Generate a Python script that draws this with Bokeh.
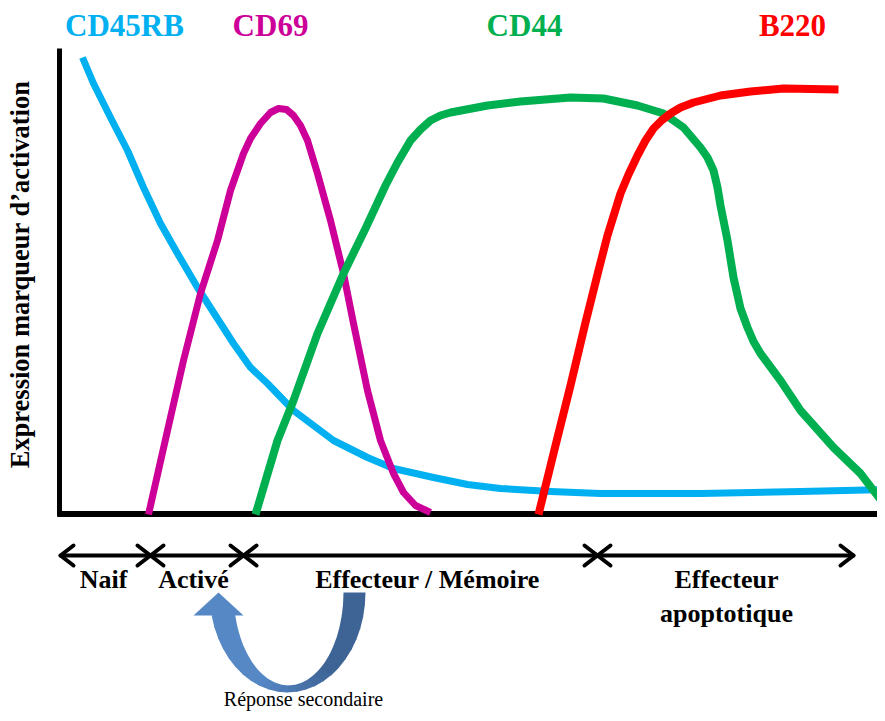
import numpy as np
from bokeh.plotting import figure
from bokeh.models import Range1d
from bokeh.core.properties import value
from bokeh.embed import file_html
from bokeh.resources import INLINE

# ---------------- data (time units on x, arbitrary expression units on y) ----------------
cd45rb_t = [22, 33, 50, 67, 83, 100, 117, 137, 173, 190, 207, 233, 273, 307, 333, 373, 407, 440, 490, 540, 640, 740, 825]
cd45rb_y = [457, 431, 397, 364, 327, 291, 261, 227, 171, 147, 131, 104, 74, 57, 46, 37, 30, 26, 23, 21, 21, 23, 25]

cd69_t = [88, 107, 123, 140, 157, 170, 183, 190, 200, 210, 218, 226, 233, 240, 247, 257, 270, 283, 293, 307, 320, 333, 343, 355, 370]
cd69_y = [0, 84, 154, 221, 274, 324, 361, 376, 391, 402, 406, 405, 399, 389, 374, 341, 294, 241, 191, 124, 74, 41, 22, 9, 2]

cd44_t = [195, 217, 233, 257, 283, 305, 325, 337, 350, 360, 370, 380, 390, 427, 460, 510, 543, 577, 603, 623, 640,
          647, 653, 657, 660, 667, 673, 680, 687, 693, 700, 720, 740, 773, 800, 823]
cd44_y = [0, 74, 114, 181, 241, 286, 329, 352, 374, 385, 394, 399, 402, 409, 413, 417, 416, 409, 401, 387, 367,
          357, 344, 327, 309, 274, 237, 206, 187, 173, 161, 134, 104, 67, 41, 11]

b220_t = [478, 495, 510, 525, 538, 547, 560, 568, 577, 585, 593, 601, 610, 620, 633, 660, 690, 723, 778]
b220_y = [0, 69, 129, 192, 244, 279, 321, 340, 359, 374, 386, 394, 401, 407, 412, 419, 423, 426, 425]

marker_names = ["CD45RB", "CD69", "CD44", "B220"]
marker_colors = ["#00B0F0", "#CC0099", "#00B050", "#FF0000"]
marker_label_t = [64, 210, 464, 732]

phase_bounds = [0, 90, 183, 537, 793]
phase_labels = ["Naif", "Activé", "Effecteur / Mémoire", "Effecteur"]
phase_label_t = [43, 133, 367, 666]
phase_sub_label = "apoptotique"

y_label = "Expression marqueur d’activation"
loop_label = "Réponse secondaire"

# ---------------- figure ----------------
p = figure(width=877, height=713, x_range=Range1d(-60, 817), y_range=Range1d(-199, 514),
           output_backend="svg", toolbar_location=None, min_border=0,
           x_axis_location=None, y_axis_location=None)
p.grid.visible = False
p.outline_line_color = None
p.background_fill_color = "white"
p.border_fill_color = "white"

FONT = value("Liberation Serif")

# axes lines
p.line(x=[-1, -1], y=[466, -2], line_color="black", line_width=5)
p.line(x=[-3, 830], y=[0.5, 0.5], line_color="black", line_width=6)

# curves
series = [(cd45rb_t, cd45rb_y), (cd69_t, cd69_y), (cd44_t, cd44_y), (b220_t, b220_y)]
widths = [7, 7, 8, 8]
for (t, yv), col, w in zip(series, marker_colors, widths):
    p.line(x=t, y=yv, line_color=col, line_width=w, line_join="round")

# marker labels
p.text(x=marker_label_t, y=[489] * 4, text=marker_names, text_color=marker_colors,
       text_font=FONT, text_font_size="31px", text_font_style="bold",
       text_align="center", text_baseline="alphabetic")

# y label
p.text(x=[-41], y=[240], text=[y_label], angle=np.pi / 2, text_font=FONT,
       text_font_size="26.5px", text_font_style="bold",
       text_align="center", text_baseline="middle", text_color="black")

# timeline
ty = -41
hl, hh = 13, 10
p.line(x=[phase_bounds[0], phase_bounds[-1]], y=[ty, ty], line_color="black", line_width=4)
x0s, y0s, x1s, y1s = [], [], [], []
for i, b in enumerate(phase_bounds):
    if i > 0:  # head pointing right (end of previous phase)
        x0s += [b - hl, b - hl]; y0s += [ty + hh, ty - hh]; x1s += [b, b]; y1s += [ty, ty]
    if i < len(phase_bounds) - 1:  # head pointing left (start of next phase)
        x0s += [b + hl, b + hl]; y0s += [ty + hh, ty - hh]; x1s += [b, b]; y1s += [ty, ty]
p.segment(x0=x0s, y0=y0s, x1=x1s, y1=y1s, line_color="black", line_width=4, line_cap="round")

p.text(x=phase_label_t, y=[-65] * 4, text=phase_labels, text_font=FONT, text_font_size="26px",
       text_font_style="bold", text_align="center", text_baseline="alphabetic", text_color="black")
p.text(x=[phase_label_t[-1]], y=[-99], text=[phase_sub_label], text_font=FONT, text_font_size="26px",
       text_font_style="bold", text_align="center", text_baseline="alphabetic", text_color="black")

# curved "secondary response" arrow (decoration)
cx_o, cx_i, cy = 227, 228, -78
rx_o, ry_o, rx_i, ry_i = 78, 100, 55, 93
th_end = np.pi - 0.24
n = 24
th = np.linspace(0, th_end, n + 1)
c_dark = np.array([62, 100, 150])
c_light = np.array([86, 136, 198])
xs, ys, cols = [], [], []
for k in range(n):
    a0, a1 = th[k], th[k + 1] + 0.01
    ox = [cx_o + rx_o * np.cos(a0), cx_o + rx_o * np.cos(a1)]
    oy = [cy - ry_o * np.sin(a0), cy - ry_o * np.sin(a1)]
    ix = [cx_i + rx_i * np.cos(a1), cx_i + rx_i * np.cos(a0)]
    iy = [cy - ry_i * np.sin(a1), cy - ry_i * np.sin(a0)]
    xs.append(ox + ix); ys.append(oy + iy)
    f = min(1.0, max(0.0, (k / (n - 1) - 0.3) / 0.4))
    c = (c_dark * (1 - f) + c_light * f).astype(int)
    cols.append("#%02x%02x%02x" % tuple(c))
p.patches(xs=xs, ys=ys, fill_color=cols, line_color=None)
head_tip, head_base_y, head_half = (158, -78), -101, 25
p.patch(x=[head_tip[0] - head_half, head_tip[0], head_tip[0] + head_half],
        y=[head_base_y, head_tip[1], head_base_y], fill_color="#5688C6", line_color=None)

p.text(x=[243], y=[-184], text=[loop_label], text_font=FONT, text_font_size="20px",
       text_align="center", text_baseline="alphabetic", text_color="black")

open("out.html", "w").write(file_html(p, INLINE))
